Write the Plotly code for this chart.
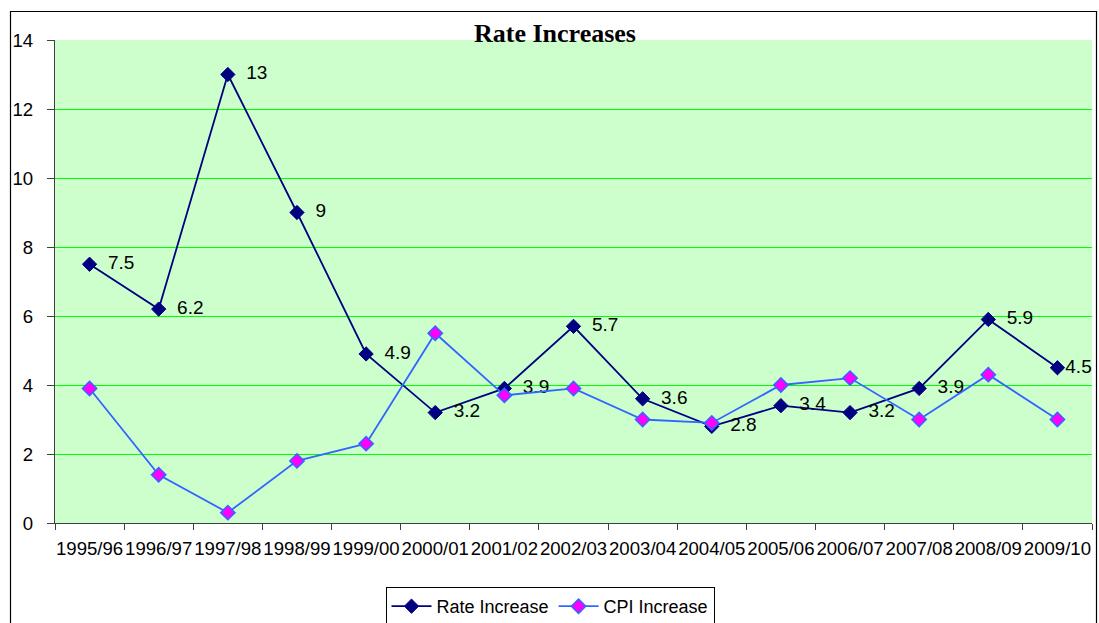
import plotly.graph_objects as go

# Financial years on the category axis
years = ["1995/96", "1996/97", "1997/98", "1998/99", "1999/00", "2000/01", "2001/02",
         "2002/03", "2003/04", "2004/05", "2005/06", "2006/07", "2007/08", "2008/09", "2009/10"]

# Annual rate increase (%) and CPI increase (%)
rate_increase = [7.5, 6.2, 13, 9, 4.9, 3.2, 3.9, 5.7, 3.6, 2.8, 3.4, 3.2, 3.9, 5.9, 4.5]
cpi_increase = [3.9, 1.4, 0.3, 1.8, 2.3, 5.5, 3.7, 3.9, 3.0, 2.9, 4.0, 4.2, 3.0, 4.3, 3.0]

y_ticks = [0, 2, 4, 6, 8, 10, 12, 14]

W, H = 1099, 623
L, R, T, B = 55, 7, 40, 100
pw, ph = W - L - R, H - T - B
y_bottom = H - B  # pixel row of the x axis


def px_to_paper_y(py):
    return (y_bottom - py) / ph


def px_to_paper_x(px):
    return (px - L) / pw


sans = "Liberation Sans, Arial, sans-serif"
pad = "\u00a0\u00a0"

# Value labels sit right of each point; the last one hugs its marker to stay on the page
labels = [pad + f"{v:g}" for v in rate_increase]
labels[-1] = f"{rate_increase[-1]:g}"

fig = go.Figure()

fig.add_trace(go.Scatter(
    x=years, y=rate_increase, name="Rate Increase",
    mode="lines+markers+text",
    line=dict(color="#000080", width=1.8),
    marker=dict(symbol="diamond", size=11, color="#000080", line=dict(color="#000080", width=1)),
    text=labels,
    textposition="middle right",
    textfont=dict(family=sans, size=19, color="black"),
    cliponaxis=False,
))

fig.add_trace(go.Scatter(
    x=years, y=cpi_increase, name="CPI Increase",
    mode="lines+markers",
    line=dict(color="#3366FF", width=1.8),
    marker=dict(symbol="diamond", size=11, color="#FF00FF", line=dict(color="#3366FF", width=1.5)),
    cliponaxis=False,
))

# Outer chart frame (runs past the bottom of the page)
fig.add_shape(type="rect", xref="paper", yref="paper",
              x0=px_to_paper_x(10.5), x1=px_to_paper_x(1096.5),
              y0=px_to_paper_y(660), y1=px_to_paper_y(11.5),
              line=dict(color="black", width=1.2), fillcolor="rgba(0,0,0,0)", layer="below")

# Keep the top edge of the plot area free of a grid line
fig.add_shape(type="line", xref="paper", yref="y", x0=0, x1=1, y0=14, y1=14,
              line=dict(color="#CCFFCC", width=2), layer="between")

fig.update_layout(
    width=W, height=H,
    margin=dict(l=L, r=R, t=T, b=B, autoexpand=False),
    paper_bgcolor="white",
    plot_bgcolor="#CCFFCC",
    title=dict(text="<b>Rate Increases</b>", x=555 / W, xref="container", xanchor="center",
               y=1 - 33 / H, yref="container", yanchor="middle",
               font=dict(family="Liberation Serif, Times New Roman, serif", size=26, color="black")),
    showlegend=True,
    legend=dict(orientation="h", x=px_to_paper_x(550), xanchor="center", y=px_to_paper_y(587),
                yanchor="top", bordercolor="black", borderwidth=1, bgcolor="white",
                font=dict(family=sans, size=18, color="black"),
                itemwidth=40, tracegroupgap=0),
    xaxis=dict(
        type="category", tickson="boundaries", ticks="outside", ticklen=6, tickcolor="#404040",
        showline=True, linecolor="#404040", linewidth=1.2, showgrid=False,
        tickangle=0, automargin=False,
        tickfont=dict(family=sans, size=18.6, color="black"), ticklabelstandoff=9,
        range=[-0.5, len(years) - 0.5],
    ),
    yaxis=dict(
        range=[0, 14], tickvals=y_ticks, ticks="outside", ticklen=7, tickcolor="#404040",
        showline=True, linecolor="#404040", linewidth=1.2, automargin=False,
        showgrid=True, gridcolor="#00FF00", gridwidth=1, zeroline=False,
        tickfont=dict(family=sans, size=18.6, color="black"), ticklabelstandoff=10,
    ),
)

fig.write_html("out.html")
